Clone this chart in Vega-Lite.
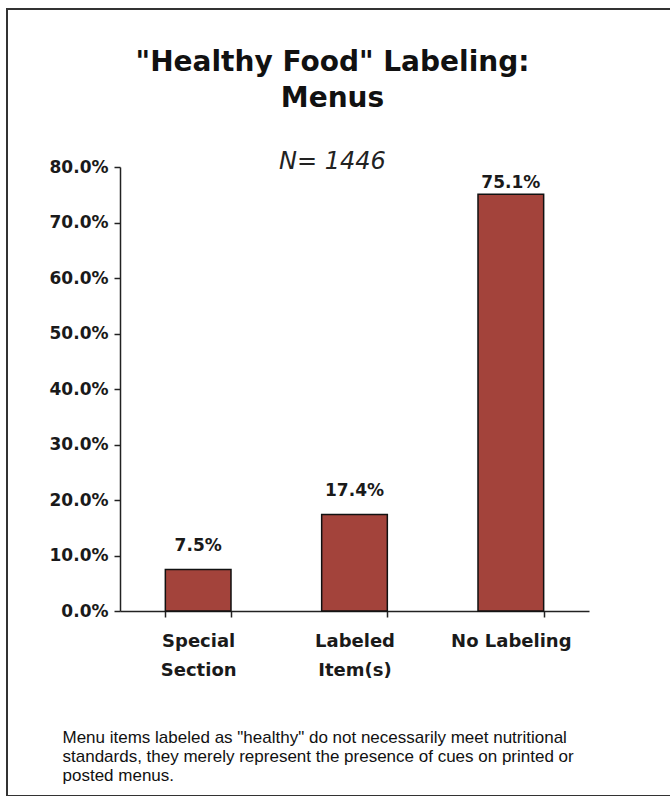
{
  "$schema": "https://vega.github.io/schema/vega-lite/v6.json",
  "width": 665,
  "height": 787,
  "autosize": {"type": "none"},
  "padding": {"left": 7, "top": 9, "right": 0, "bottom": 0},
  "background": "white",
  "config": {
    "view": {"stroke": "#333333", "strokeWidth": 2},
    "font": "DejaVu Sans"
  },
  "title": {
    "text": ["\"Healthy Food\" Labeling:", "Menus"],
    "subtitle": "N= 1446",
    "anchor": "middle",
    "orient": "top",
    "offset": -165,
    "dx": -7,
    "font": "DejaVu Sans",
    "fontSize": 28,
    "fontWeight": "bold",
    "color": "#111111",
    "lineHeight": 36,
    "subtitleFont": "DejaVu Sans",
    "subtitleFontSize": 24,
    "subtitleFontStyle": "italic",
    "subtitleColor": "#222222",
    "subtitlePadding": 37
  },
  "data": {
    "values": [
      {"category": "Special Section", "pct": 0.075},
      {"category": "Labeled Item(s)", "pct": 0.174},
      {"category": "No Labeling", "pct": 0.751}
    ]
  },
  "encoding": {
    "x": {
      "field": "category",
      "type": "nominal",
      "sort": null,
      "scale": {"range": [113, 582], "paddingInner": 0.58, "paddingOuter": 0.29},
      "axis": {
        "offset": -185,
        "labelAngle": 0,
        "labelExpr": "datum.label == 'No Labeling' ? datum.label : split(datum.label, ' ')",
        "labelFont": "DejaVu Sans",
        "labelFontWeight": "bold",
        "labelFontSize": 18,
        "labelColor": "#1a1a1a",
        "labelLineHeight": 29,
        "labelPadding": 15,
        "labelBaseline": "top",
        "tickBand": "extent",
        "tickSize": 6,
        "tickColor": "#222222",
        "tickWidth": 1.5,
        "domainColor": "#222222",
        "domainWidth": 1.5,
        "grid": false,
        "title": ["Menu items labeled as \"healthy\" do not necessarily meet nutritional", "standards, they merely represent the presence of cues on printed or", "posted menus."],
        "titleX": 55,
        "titleY": 131,
        "titleAlign": "left",
        "titleAnchor": null,
        "titleBaseline": "alphabetic",
        "titleFont": "Liberation Sans",
        "titleFontWeight": "normal",
        "titleFontSize": 17,
        "titleLineHeight": 19,
        "titleColor": "#111111"
      }
    },
    "y": {
      "field": "pct",
      "type": "quantitative",
      "scale": {"domain": [0, 0.8], "range": [602, 158], "nice": false, "zero": true},
      "axis": {
        "offset": -113,
        "values": [0, 0.1, 0.2, 0.3, 0.4, 0.5, 0.6, 0.7, 0.8],
        "format": ".1%",
        "labelFont": "DejaVu Sans",
        "labelFontWeight": "bold",
        "labelFontSize": 17,
        "labelColor": "#1a1a1a",
        "labelPadding": 6,
        "tickSize": 6,
        "tickColor": "#222222",
        "tickWidth": 1.5,
        "domainColor": "#222222",
        "domainWidth": 1.5,
        "grid": false,
        "title": null
      }
    }
  },
  "layer": [
    {
      "mark": {"type": "bar", "color": "#A3433B", "stroke": "#111111", "strokeWidth": 1.5}
    },
    {
      "transform": [{"filter": "datum.pct <= 0.5"}],
      "mark": {"type": "text", "baseline": "alphabetic", "dy": -18, "font": "DejaVu Sans", "fontWeight": "bold", "fontSize": 17, "color": "#1a1a1a"},
      "encoding": {
        "text": {"field": "pct", "type": "quantitative", "format": ".1%"}
      }
    },
    {
      "transform": [{"filter": "datum.pct > 0.5"}],
      "mark": {"type": "text", "baseline": "alphabetic", "dy": -6, "font": "DejaVu Sans", "fontWeight": "bold", "fontSize": 17, "color": "#1a1a1a"},
      "encoding": {
        "text": {"field": "pct", "type": "quantitative", "format": ".1%"}
      }
    }
  ]
}
